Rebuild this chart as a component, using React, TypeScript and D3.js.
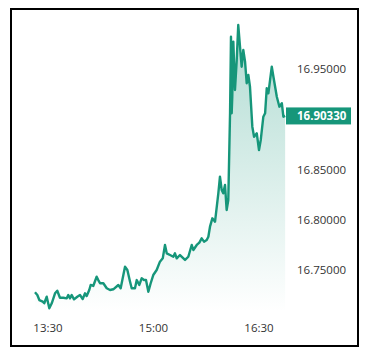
import React from "react";
import * as d3 from "d3";

// minutes relative to 13:30
const minutes: number[] = [
  -11.1, -9.1, -7.4, -4.5, -3.2, -1.1, 1.1, 3.2, 6.0, 7.9, 10.2, 13.1, 16.0, 17.3, 18.8, 20.2, 22.2, 25.0, 27.3, 29.6,
  31.6, 33.0, 35.2, 36.4, 38.6, 41.5, 42.9, 44.4, 47.2, 50.1, 52.9, 55.7, 60.0, 62.0, 65.7, 67.7, 70.0, 71.4, 74.2, 75.7,
  77.9, 79.9, 81.9, 83.6, 85.6, 87.6, 89.8, 92.7, 95.5, 97.9, 99.8, 101.3, 104.1, 106.9, 108.3, 109.8, 112.6, 116.9, 119.7, 122.6,
  124.0, 126.9, 129.1, 131.1, 133.1, 135.4, 136.8, 138.2, 140.2, 142.5, 145.3, 146.7, 148.2, 149.5, 151.0, 152.4, 153.8, 155.3, 156.1, 156.7,
  157.2, 158.1, 159.5, 161.0, 162.3, 163.8, 165.2, 166.6, 168.1, 169.5, 170.9, 172.3, 174.3, 175.8, 178.1, 180.0, 181.5, 183.7, 185.2, 186.6,
  188.0, 190.9, 192.3, 195.2, 197.4, 199.5, 200.8, 202.3,
];
const values: number[] = [
  16.7278, 16.7251, 16.7201, 16.7185, 16.7169, 16.7234, 16.7119, 16.7169, 16.7268, 16.7294, 16.7224, 16.7224, 16.7218, 16.7251, 16.7218, 16.7251, 16.7208, 16.7234, 16.7251, 16.7211,
  16.7268, 16.7241, 16.7301, 16.7351, 16.7341, 16.7433, 16.74, 16.7368, 16.7368, 16.7318, 16.7301, 16.7308, 16.7351, 16.7318, 16.7533, 16.75, 16.7384, 16.7318, 16.7318, 16.74,
  16.7351, 16.7417, 16.74, 16.74, 16.7284, 16.7368, 16.745, 16.75, 16.7583, 16.7616, 16.7749, 16.7666, 16.7649, 16.7632, 16.7666, 16.7616, 16.7649, 16.76, 16.7632, 16.7749,
  16.7699, 16.7749, 16.7772, 16.7815, 16.7782, 16.7799, 16.7831, 16.7931, 16.8014, 16.7981, 16.8263, 16.8428, 16.8296, 16.8263, 16.8346, 16.8097, 16.8197, 16.9059, 16.9821, 16.9059,
  16.9224, 16.9772, 16.9291, 16.959, 16.9938, 16.9722, 16.9523, 16.9689, 16.9573, 16.9358, 16.944, 16.9324, 16.8926, 16.8826, 16.886, 16.8694, 16.8794, 16.9025, 16.9059, 16.9308,
  16.9258, 16.9523, 16.9423, 16.9224, 16.9125, 16.9159, 16.9025, 16.9033,
];
const yTicks: number[] = [16.75, 16.8, 16.85, 16.9, 16.95];
const xTickMinutes: number[] = [0, 90, 180];
const xTickLabels: string[] = ["13:30", "15:00", "16:30"];
const lastLabel = "16.90330";

const COLOR = "#16967a";
const FONT = "'Open Sans', 'Noto Sans', sans-serif";

export default function App() {
  const x = d3.scaleLinear().domain([0, 90]).range([48, 153.5]);
  const y = d3.scaleLinear().domain([16.75, 16.95]).range([270, 69]);
  const data = minutes.map((m, i) => ({ m, v: values[i] }));
  const line = d3
    .line<{ m: number; v: number }>()
    .x((d) => x(d.m))
    .y((d) => y(d.v));
  const area = d3
    .area<{ m: number; v: number }>()
    .x((d) => x(d.m))
    .y0(312)
    .y1((d) => y(d.v));
  const last = data[data.length - 1];
  const ly = y(last.v);

  return (
    <svg
      width={369}
      height={357}
      style={{ position: "absolute", left: 0, top: 0, background: "#fff" }}
    >
      <defs>
        <linearGradient id="fillg" gradientUnits="userSpaceOnUse" x1="0" y1="25" x2="0" y2="312">
          <stop offset="0" stopColor={COLOR} stopOpacity={0.34} />
          <stop offset="1" stopColor={COLOR} stopOpacity={0} />
        </linearGradient>
      </defs>
      <rect x={11} y={9} width={347} height={337} fill="#fff" stroke="#000" strokeWidth={2} />
      <path d={area(data) || ""} fill="url(#fillg)" />
      <path d={line(data) || ""} fill="none" stroke={COLOR} strokeWidth={2.4} strokeLinejoin="round" />
      {yTicks
        .filter((t) => Math.abs(y(t) - ly) > 14)
        .map((t) => (
          <text
            key={t}
            x={297}
            y={y(t)}
            dy="0.35em"
            fontFamily={FONT}
            fontSize={11.5}
            fill="#333"
          >
            {t.toFixed(5)}
          </text>
        ))}
      <rect x={286} y={ly - 8.5} width={65} height={17} fill={COLOR} />
      <text
        x={297}
        y={ly}
        dy="0.35em"
        fontFamily={FONT}
        fontSize={11.5}
        fontWeight="bold"
        fill="#fff"
      >
        {lastLabel}
      </text>
      {xTickMinutes.map((m, i) => (
        <text
          key={m}
          x={x(m)}
          y={328}
          dy="0.35em"
          textAnchor="middle"
          fontFamily={FONT}
          fontSize={11.5}
          fill="#333"
        >
          {xTickLabels[i]}
        </text>
      ))}
    </svg>
  );
}
